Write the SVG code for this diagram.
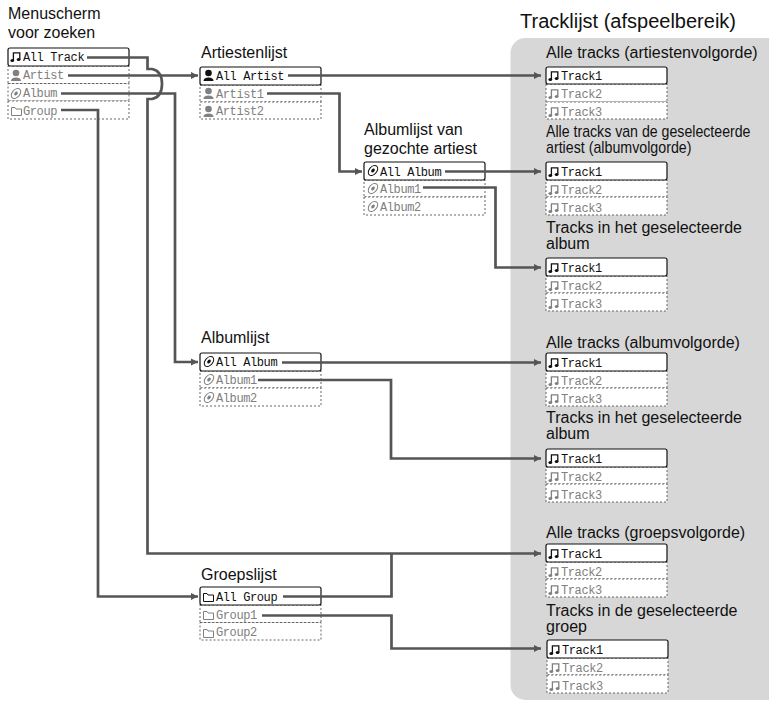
<svg xmlns="http://www.w3.org/2000/svg" width="769" height="701" viewBox="0 0 769 701">
<style>
.t{font-family:"Liberation Sans",Arial,sans-serif;font-size:16px;fill:#111}
.h{font-family:"Liberation Sans",Arial,sans-serif;font-size:20px;fill:#111}
.m{font-family:"Liberation Mono","DejaVu Sans Mono",monospace;font-size:12px;letter-spacing:-.4px}
.on{fill:#111}.off{fill:#808080}
.sel{fill:#fff;stroke:#111;stroke-width:1.2}
.row{fill:#fff;stroke:#666;stroke-width:1;stroke-dasharray:2 2}
.c{fill:none;stroke:#555;stroke-width:2.7;stroke-linejoin:miter}
.a{marker-end:url(#arr)}
</style>
<defs>
<marker id="arr" markerUnits="userSpaceOnUse" markerWidth="8" markerHeight="8" refX="7" refY="4" orient="auto"><path d="M0 .5L7 4L0 7.500z" fill="#555"/></marker>
<g id="note"><path d="M2.400 10.500V2.800H8.800V9.500" fill="none" stroke="currentColor" stroke-width="1.300"/><ellipse cx="1.300" cy="10.500" rx="1.900" ry="1.500" fill="currentColor"/><ellipse cx="7.600" cy="9.500" rx="1.900" ry="1.500" fill="currentColor"/></g>
<g id="person"><circle cx="5" cy="4" r="3.300" fill="currentColor"/><path d="M0 12Q0 8.500 5 8.500T10 12z" fill="currentColor"/></g>
<g id="disc"><ellipse cx="5" cy="6.500" rx="5.800" ry="3.800" transform="rotate(-50 5 6.500)" fill="none" stroke="currentColor" stroke-width="1"/><ellipse cx="5" cy="6.500" rx="2.200" ry="1.500" transform="rotate(-50 5 6.500)" fill="currentColor"/></g>
<g id="folder"><path d="M.5 3.500H4L5 5H10.500V11.500H.5z" fill="none" stroke="currentColor" stroke-width="1"/></g>
</defs>
<rect x="510.500" y="38" width="272" height="662" rx="15" fill="#d7d7d7"/>
<g id="titles">
<text class="h" x="520" y="28">Tracklijst (afspeelbereik)</text>
<text class="t" x="8" y="19">Menuscherm</text><text class="t" x="8" y="38">voor zoeken</text>
<text class="t" x="201" y="58">Artiestenlijst</text>
<text class="t" x="364" y="135">Albumlijst van</text><text class="t" x="364" y="154">gezochte artiest</text>
<text class="t" x="201" y="343">Albumlijst</text>
<text class="t" x="201" y="580">Groepslijst</text>
<text class="t" x="546" y="58">Alle tracks (artiestenvolgorde)</text>
<text class="t" transform="translate(546 137) scale(.885 1)">Alle tracks van de geselecteerde</text><text class="t" transform="translate(546 153) scale(.89 1)">artiest (albumvolgorde)</text>
<text class="t" x="546" y="233">Tracks in het geselecteerde</text><text class="t" x="546" y="249">album</text>
<text class="t" x="546" y="348">Alle tracks (albumvolgorde)</text>
<text class="t" x="546" y="423">Tracks in het geselecteerde</text><text class="t" x="546" y="439">album</text>
<text class="t" x="546" y="538">Alle tracks (groepsvolgorde)</text>
<text class="t" x="546" y="616">Tracks in de geselecteerde</text><text class="t" x="546" y="632">groep</text>
</g>
<g id="list-menu">
<rect class="row" x="8" y="66" width="121" height="17.500"/><rect class="row" x="8" y="83.500" width="121" height="17.500"/><rect class="row" x="8" y="101" width="121" height="18"/><rect class="sel" x="8" y="48" width="121" height="18" rx="2"/>
<use href="#note" x="11" y="50" color="#111"/><text class="m on" x="23" y="61">All Track</text>
<use href="#person" x="11" y="69" color="#808080"/><text class="m off" x="23" y="79">Artist</text>
<use href="#disc" x="11" y="87" color="#808080"/><text class="m off" x="23" y="97">Album</text>
<use href="#folder" x="11" y="104" color="#808080"/><text class="m off" x="23" y="115">Group</text>
</g>
<g id="list-artist">
<rect class="row" x="200" y="85" width="121" height="17"/><rect class="row" x="200" y="102" width="121" height="17"/><rect class="sel" x="200" y="67" width="121" height="18" rx="2"/>
<use href="#person" x="203.500" y="69" color="#111"/><text class="m on" x="216" y="80">All Artist</text>
<use href="#person" x="203.500" y="87" color="#808080"/><text class="m off" x="216" y="98">Artist1</text>
<use href="#person" x="203.500" y="105" color="#808080"/><text class="m off" x="216" y="115">Artist2</text>
</g>
<g id="list-album-artist">
<rect class="row" x="364" y="180" width="121" height="17"/><rect class="row" x="364" y="197" width="121" height="18"/><rect class="sel" x="364" y="162" width="121" height="18" rx="2"/>
<use href="#disc" x="368" y="164" color="#111"/><text class="m on" x="380" y="176">All Album</text>
<use href="#disc" x="368" y="182" color="#808080"/><text class="m off" x="380" y="193">Album1</text>
<use href="#disc" x="368" y="200" color="#808080"/><text class="m off" x="380" y="211">Album2</text>
</g>
<g id="list-album">
<rect class="row" x="200" y="371" width="121" height="17"/><rect class="row" x="200" y="388" width="121" height="18"/><rect class="sel" x="200" y="353" width="121" height="18" rx="2"/>
<use href="#disc" x="204" y="355" color="#111"/><text class="m on" x="216" y="366">All Album</text>
<use href="#disc" x="204" y="373" color="#808080"/><text class="m off" x="216" y="384">Album1</text>
<use href="#disc" x="204" y="391" color="#808080"/><text class="m off" x="216" y="402">Album2</text>
</g>
<g id="list-group">
<rect class="row" x="200" y="605" width="121" height="17.500"/><rect class="row" x="200" y="622.500" width="121" height="17.500"/><rect class="sel" x="200" y="587" width="121" height="18" rx="2"/>
<use href="#folder" x="203" y="590" color="#111"/><text class="m on" x="216" y="601">All Group</text>
<use href="#folder" x="203" y="608" color="#808080"/><text class="m off" x="216" y="619">Group1</text>
<use href="#folder" x="203" y="626" color="#808080"/><text class="m off" x="216" y="636">Group2</text>
</g>
<g id="track-1"><rect class="row" x="546" y="84" width="121" height="18"/><rect class="row" x="546" y="102" width="121" height="17"/><rect class="sel" x="546" y="67" width="121" height="17" rx="2"/><use href="#note" x="549" y="69" color="#111"/><text class="m on" x="561" y="80">Track1</text><use href="#note" x="549" y="87" color="#808080"/><text class="m off" x="561" y="98">Track2</text><use href="#note" x="549" y="105" color="#808080"/><text class="m off" x="561" y="116">Track3</text></g>
<g id="track-2"><rect class="row" x="546" y="180" width="121" height="17"/><rect class="row" x="546" y="197" width="121" height="18"/><rect class="sel" x="546" y="162" width="121" height="18" rx="2"/><use href="#note" x="549" y="165" color="#111"/><text class="m on" x="561" y="176">Track1</text><use href="#note" x="549" y="183" color="#808080"/><text class="m off" x="561" y="194">Track2</text><use href="#note" x="549" y="201" color="#808080"/><text class="m off" x="561" y="212">Track3</text></g>
<g id="track-3"><rect class="row" x="546" y="276" width="121" height="17"/><rect class="row" x="546" y="293" width="121" height="18"/><rect class="sel" x="546" y="258" width="121" height="18" rx="2"/><use href="#note" x="549" y="261" color="#111"/><text class="m on" x="561" y="272">Track1</text><use href="#note" x="549" y="279" color="#808080"/><text class="m off" x="561" y="290">Track2</text><use href="#note" x="549" y="297" color="#808080"/><text class="m off" x="561" y="308">Track3</text></g>
<g id="track-4"><rect class="row" x="546" y="371" width="121" height="17"/><rect class="row" x="546" y="388" width="121" height="18"/><rect class="sel" x="546" y="353" width="121" height="18" rx="2"/><use href="#note" x="549" y="356" color="#111"/><text class="m on" x="561" y="367">Track1</text><use href="#note" x="549" y="374" color="#808080"/><text class="m off" x="561" y="385">Track2</text><use href="#note" x="549" y="392" color="#808080"/><text class="m off" x="561" y="403">Track3</text></g>
<g id="track-5"><rect class="row" x="546" y="467" width="121" height="17"/><rect class="row" x="546" y="484" width="121" height="18"/><rect class="sel" x="546" y="449" width="121" height="18" rx="2"/><use href="#note" x="549" y="452" color="#111"/><text class="m on" x="561" y="463">Track1</text><use href="#note" x="549" y="470" color="#808080"/><text class="m off" x="561" y="481">Track2</text><use href="#note" x="549" y="488" color="#808080"/><text class="m off" x="561" y="499">Track3</text></g>
<g id="track-6"><rect class="row" x="546" y="562" width="121" height="17"/><rect class="row" x="546" y="579" width="121" height="18"/><rect class="sel" x="546" y="544" width="121" height="18" rx="2"/><use href="#note" x="549" y="547" color="#111"/><text class="m on" x="561" y="558">Track1</text><use href="#note" x="549" y="565" color="#808080"/><text class="m off" x="561" y="576">Track2</text><use href="#note" x="549" y="583" color="#808080"/><text class="m off" x="561" y="594">Track3</text></g>
<g id="track-7"><rect class="row" x="547" y="658" width="121" height="17"/><rect class="row" x="547" y="675" width="121" height="18"/><rect class="sel" x="547" y="640" width="121" height="18" rx="2"/><use href="#note" x="550" y="643" color="#111"/><text class="m on" x="562" y="654">Track1</text><use href="#note" x="550" y="661" color="#808080"/><text class="m off" x="562" y="672">Track2</text><use href="#note" x="550" y="679" color="#808080"/><text class="m off" x="562" y="690">Track3</text></g>
<g id="connectors">
<path class="c a" d="M87 57.500H147.500V69H152Q162 71 162 84Q162 97 152 99H147.500V553.500H541"/>
<path class="c a" d="M68 75.500H198"/>
<path class="c a" d="M61 93.500H175V362H198"/>
<path class="c a" d="M61 110H98V596.500H198"/>
<path class="c a" d="M288 75.500H541"/>
<path class="c a" d="M267 93.500H339.500V171.500H362"/>
<path class="c a" d="M445 171.500H541"/>
<path class="c a" d="M423 187.500H495.500V267.500H541"/>
<path class="c a" d="M282 362.500H541"/>
<path class="c a" d="M258 380H391V458.500H541"/>
<path class="c" d="M283 596.500H391.500V553"/>
<path class="c a" d="M262 615.500H391.500V648.500H541"/>
</g>
</svg>
